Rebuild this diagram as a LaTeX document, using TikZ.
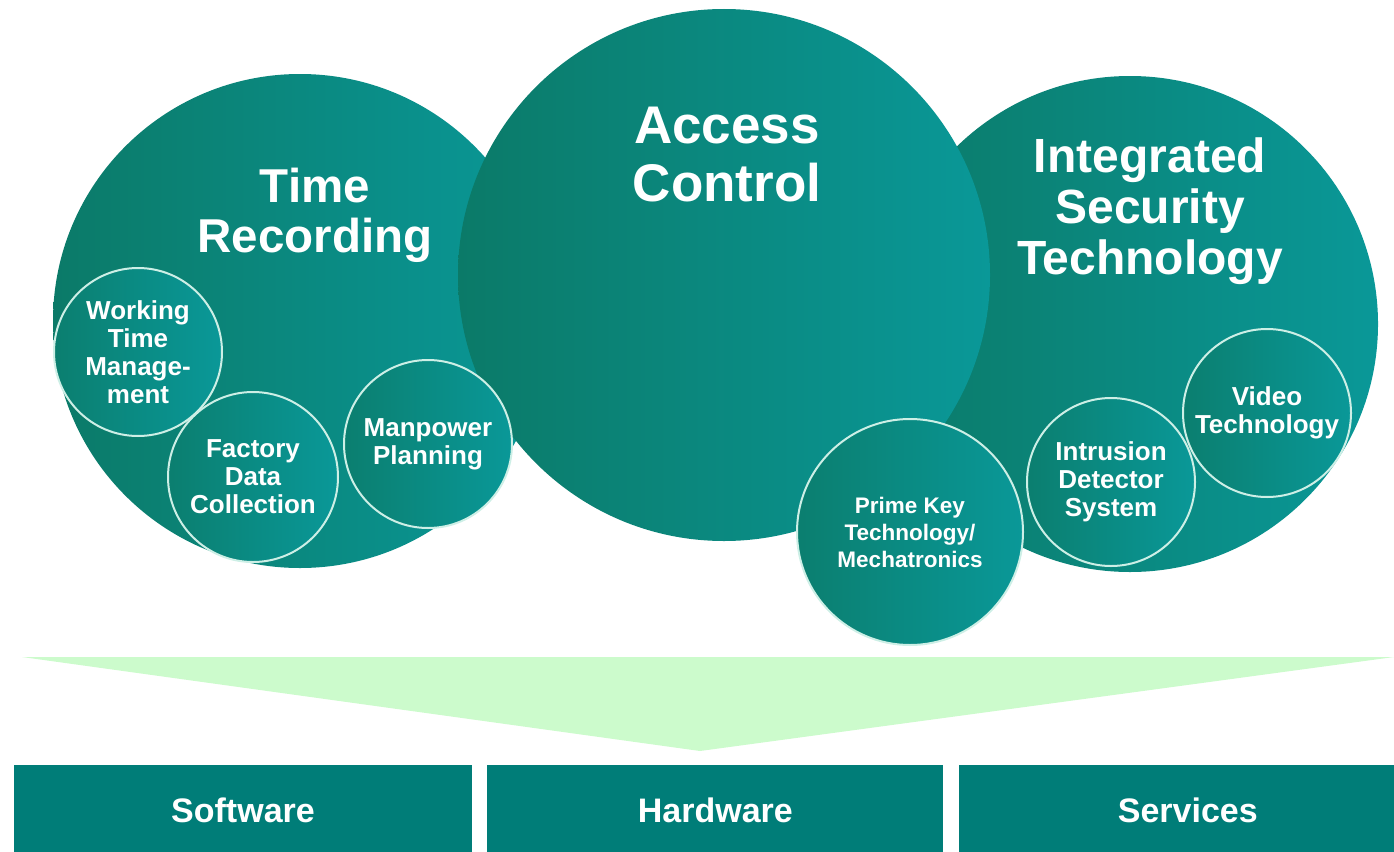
\documentclass[tikz,border=0pt]{standalone}
\usepackage{fontspec}
\setmainfont{Liberation Sans}
\usepackage{xcolor}
\usetikzlibrary{positioning}

\definecolor{TealDark}{HTML}{0B7A68}
\definecolor{TealLight}{HTML}{0A9898}
\definecolor{RingColor}{HTML}{CDEFE6}
\definecolor{BandGreen}{HTML}{CCFBCC}
\definecolor{BoxTeal}{HTML}{007D78}

\begin{document}
\begin{tikzpicture}[x=1pt,y=-1pt]
  \tikzset{BigDisc/.style   = {circle, inner sep=0pt,
                               left color=TealDark, right color=TealLight},
           SmallDisc/.style = {circle, inner sep=0pt, minimum size=168pt,
                               left color=TealDark!85!TealLight, right color=TealLight,
                               draw=RingColor, line width=2pt,
                               text=white, align=center,
                               font=\bfseries\fontsize{26}{28}\selectfont},
           Title/.style     = {text=white, align=center,
                               font=\bfseries\fontsize{47.5}{50}\selectfont},
           Block/.style     = {rectangle, fill=BoxTeal, text=white, inner sep=0pt,
                               minimum height=90pt,
                               font=\bfseries\fontsize{34}{40}\selectfont}}

\useasboundingbox (0,0) rectangle (1394,851);

% big circles
\node[BigDisc, minimum size=494pt] (timerec) at (300,321) {};
\node[BigDisc, minimum size=496pt] (intsec)  at (1130,324) {};
\node[BigDisc, minimum size=532pt] (access)  at (724,275) {};

\node[Title] (timerecT) at (315,215) {Time\\Recording};
\node[Title, font=\bfseries\fontsize{53}{58}\selectfont] (accessT) at (727,155) {Access\\Control};
\node[Title, font=\bfseries\fontsize{48}{51}\selectfont] (intsecT) at (1150,211) {Integrated\\Security\\Technology};

% small circles
\node[SmallDisc] (wtm) at (138,352) {Working\\Time\\Manage-\\ment};
\node[SmallDisc, minimum size=170pt] (fdc) at (253,477) {Factory\\Data\\Collection};
\node[SmallDisc] (mpp) at (428,444) {Manpower\\Planning};
\node[SmallDisc, minimum size=226pt,
      font=\bfseries\fontsize{22.5}{27}\selectfont] (pkt) at (910,532) {Prime Key\\Technology/\\Mechatronics};
\node[SmallDisc] (ids) at (1111,482) {Intrusion\\Detector\\System};
\node[SmallDisc] (vid) at (1267,413) {Video\\Technology};

% arrow band
\fill[BandGreen] (22,657) -- (1394,657) -- (700,751) -- cycle;

% boxes
\node[Block, minimum width=458pt] (soft) at (243,810) {Software};
\node[Block, minimum width=456pt, right=15pt of soft] (hard) {Hardware};
\node[Block, minimum width=458pt, right=15pt of hard] (serv) {Services};

\end{tikzpicture}
\end{document}
